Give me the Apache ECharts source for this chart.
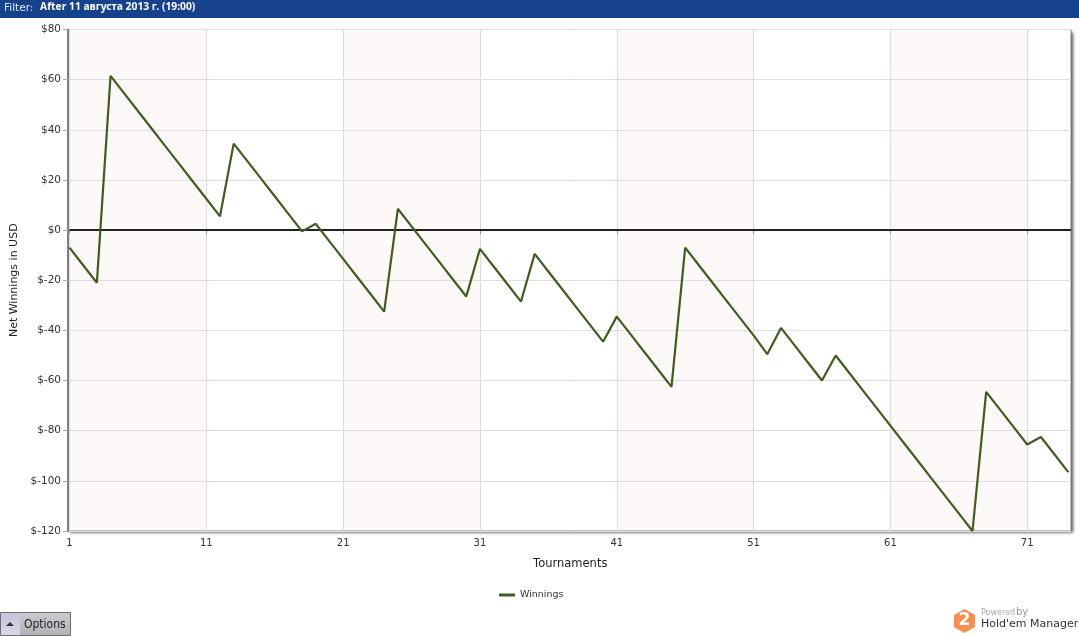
<!DOCTYPE html>
<html>
<head>
<meta charset="utf-8">
<style>html,body{margin:0;padding:0;background:#fff}#c{width:1079px;height:636px}</style>
<script src="https://cdn.jsdelivr.net/npm/echarts@6/dist/echarts.min.js"></script>
</head>
<body>
<div id="c"></div>
<script>
const tournaments = [1,2,3,4,5,6,7,8,9,10,11,12,13,14,15,16,17,18,19,20,21,22,23,24,25,26,27,28,29,30,31,32,33,34,35,36,37,38,39,40,41,42,43,44,45,46,47,48,49,50,51,52,53,54,55,56,57,58,59,60,61,62,63,64,65,66,67,68,69,70,71,72,73,74];
const winnings = [-7,-14,-21,61.5,54.5,47.5,40.5,33.5,26.5,19.5,12.5,5.5,34.5,27.5,20.5,13.5,6.5,-0.5,2.5,-4.5,-11.5,-18.5,-25.5,-32.5,8.5,1.5,-5.5,-12.5,-19.5,-26.5,-7.5,-14.5,-21.5,-28.5,-9.5,-16.5,-23.5,-30.5,-37.5,-44.5,-34.5,-41.5,-48.5,-55.5,-62.5,-7,-14,-21,-28,-35,-42,-49.5,-39,-46,-53,-60,-50,-57,-64,-71,-78,-85,-92,-99,-106,-113,-120,-64.5,-71.5,-78.5,-85.5,-82.5,-89.5,-96.5];
const bandRanges = [[1,11],[21,31],[41,51],[61,71]];
const seriesName = 'Winnings';
const filterLabel = 'Filter:';
const filterValue = 'After 11 августа 2013 г. (19:00)';

const FONT = '"DejaVu Sans", sans-serif';
const chart = echarts.init(document.getElementById('c'), null, {renderer:'canvas'});
chart.setOption({
  animation:false,
  backgroundColor:'#fff',
  grid:{left:69.5,right:8,top:29.5,bottom:105,show:false},
  legend:{show:true,left:494,top:585,itemWidth:16,itemHeight:3,itemGap:6,icon:'rect',
    textStyle:{fontFamily:FONT,fontSize:9.5,color:'#333'},data:[seriesName]},
  xAxis:{type:'value',min:0,max:73.2,interval:10,z:2,
    name:'Tournaments',nameLocation:'middle',nameGap:27,
    nameTextStyle:{fontFamily:FONT,fontSize:11.5,color:'#222'},
    axisLine:{show:false},
    axisTick:{show:true,length:4,lineStyle:{color:'#999'}},
    axisLabel:{showMaxLabel:false,margin:7,fontFamily:FONT,fontSize:10,color:'#333',formatter:v=>String(v+1)},
    splitLine:{show:true,showMaxLine:false,lineStyle:{color:'#dedada',width:1}}},
  yAxis:{type:'value',min:-120,max:80,interval:20,z:2,offset:1.5,
    name:'Net Winnings in USD',nameLocation:'middle',nameGap:47,
    nameTextStyle:{fontFamily:FONT,fontSize:11,color:'#222'},
    axisLine:{show:true,onZero:false,lineStyle:{color:'#808080',width:2}},
    axisTick:{show:true,length:5,lineStyle:{color:'#aaa'}},
    axisLabel:{margin:7,fontFamily:FONT,fontSize:10.5,color:'#333',formatter:v=>v<0?'$-'+Math.abs(v):'$'+v},
    splitLine:{show:true,lineStyle:{color:'#dedede',width:1}}},
  series:[{
    name:seriesName,type:'line',z:4,showSymbol:false,symbol:'none',smooth:false,clip:false,
    color:'#3f5c22',lineStyle:{color:'#3f5c22',width:2.2},
    data:tournaments.map((t,i)=>[t-1,winnings[i]]),
    markArea:{silent:true,z:1,itemStyle:{color:'#fdf9f8'},
      data:bandRanges.map(r=>[{xAxis:r[0]-1},{xAxis:r[1]-1}])},
    markLine:{silent:true,z:3,symbol:'none',label:{show:false},
      lineStyle:{color:'#222',width:2,type:'solid'},data:[{yAxis:0}]}
  }],
  graphic:[
    {type:'rect',z:-10,silent:true,shape:{x:68,y:29.5,width:1003,height:501.5},
      style:{fill:'#fff',shadowColor:'rgba(0,0,0,0.7)',shadowBlur:3,shadowOffsetX:2,shadowOffsetY:2}},
    {type:'rect',z:2,silent:true,shape:{x:68,y:29.5,width:1003,height:501.5},
      style:{fill:'none',stroke:'#808080',lineWidth:1}},
    {type:'rect',shape:{x:0,y:0,width:1079,height:18},style:{fill:'#16428b'},silent:true},
    {type:'text',x:4,y:3,style:{text:filterLabel,fontFamily:'"DejaVu Sans"',fontSize:10.5,fill:'#dfe8f6'}},
    {type:'text',x:40,y:2.5,style:{text:filterValue,fontFamily:'"Noto Sans"',fontWeight:'bold',fontSize:10.3,fill:'#fff'}},
    {type:'rect',shape:{x:0.5,y:612.5,width:70,height:23},
      style:{fill:new echarts.graphic.LinearGradient(0,0,0,1,[{offset:0,color:'#c9cdd0'},{offset:1,color:'#aeb2b5'}]),stroke:'#6b6f73',lineWidth:1}},
    {type:'rect',shape:{x:1,y:613,width:19,height:22},style:{fill:new echarts.graphic.LinearGradient(0,0,0,1,[{offset:0,color:'#c5c4dc'},{offset:1,color:'#d8d8e6'}])}},
    {type:'polygon',shape:{points:[[6,626],[14,626],[10,622]]},style:{fill:'#333'}},
    {type:'text',x:24,y:619,style:{text:'Options',fontFamily:'"DejaVu Sans Condensed","DejaVu Sans"',fontSize:12,fill:'#222'}},
    {type:'polygon',shape:{points:[[964.5,609],[975,615],[975,627],[964.5,633],[954,627],[954,615]]},style:{fill:'#f58f55'}},
    {type:'text',x:964.5,y:621,style:{text:'2',fontFamily:FONT,fontWeight:'bold',fontSize:17,fill:'#fff',align:'center',verticalAlign:'middle'}},
    {type:'text',x:981,y:609,style:{text:'Powered',fontFamily:FONT,fontSize:8,fill:'#aaa'}},
    {type:'text',x:1016,y:607,style:{text:'by',fontFamily:FONT,fontSize:10,fill:'#999'}},
    {type:'text',x:981,y:619,style:{text:"Hold'em Manager",fontFamily:FONT,fontSize:11,fill:'#333'}}
  ]
});
</script>
</body>
</html>
